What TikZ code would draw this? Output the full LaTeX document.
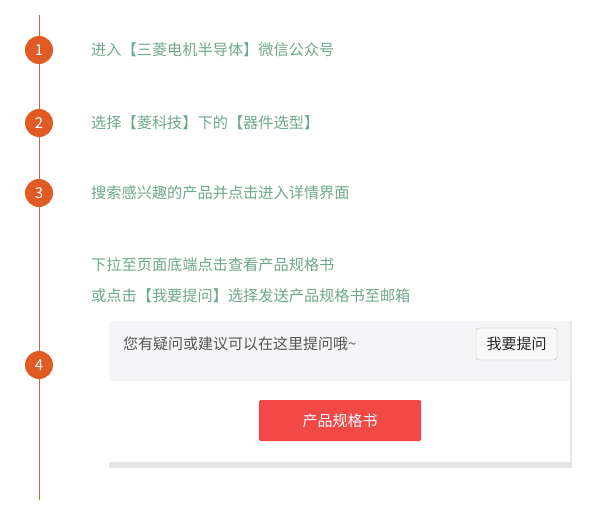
\documentclass[tikz,border=0pt]{standalone}
\usepackage{fontspec}
\setmainfont{Noto Sans CJK SC}
\definecolor{lineor}{HTML}{D2643A}
\definecolor{circor}{HTML}{E05A24}
\definecolor{steptxt}{HTML}{6FA88C}
\definecolor{panelgrey}{HTML}{F5F5F7}
\definecolor{panelbot}{HTML}{E6E6E6}
\definecolor{darktxt}{HTML}{555555}
\definecolor{redbtn}{HTML}{F24848}
\tikzset{
  num/.style={circle,fill=circor,minimum size=28pt,inner sep=0pt,text=white,font=\fontsize{15}{15}\selectfont},
  steplabel/.style={anchor=west,inner sep=0pt,text=steptxt,font=\fontsize{15.2}{15.2}\selectfont},
}
\begin{document}
\begin{tikzpicture}[x=1pt,y=-1pt]
\useasboundingbox[fill=white] (0,0) rectangle (599,516);
% timeline
\coordinate (top) at (39,15);
\coordinate (bot) at (39,500);
\draw[lineor,line width=1pt] (top) -- (bot);
\node[num] (n1) at (39,50) {1};
\node[num] (n2) at (39,123) {2};
\node[num] (n3) at (39,193) {3};
\node[num] (n4) at (39,365) {4};
\node[steplabel] (t1) at (91,50) {进入【三菱电机半导体】微信公众号};
\node[steplabel] (t2) at (91,123) {选择【菱科技】下的【器件选型】};
\node[steplabel] (t3) at (91,193) {搜索感兴趣的产品并点击进入详情界面};
\node[steplabel] (t4a) at (91,265) {下拉至页面底端点击查看产品规格书};
\node[steplabel] (t4b) at (91,296) {或点击【我要提问】选择发送产品规格书至邮箱};
% screenshot panel
\fill[white] (109,321) rectangle (571,468);
\fill[panelgrey] (109,321) rectangle (571,381);
\fill[panelbot] (109,462) rectangle (571,468);
\draw[panelbot,line width=1.5pt] (571,321) -- (571,468);
\node[anchor=west,inner sep=0pt,text=darktxt,font=\fontsize{15}{15}\selectfont] (q) at (123,344) {您有疑问或建议可以在这里提问哦\char`\~};
\node[draw=black!25,fill=panelgrey!60,rounded corners=3pt,minimum width=81pt,minimum height=32pt,inner sep=0pt,font=\fontsize{15}{15}\selectfont,text=black!85] (ask) at (516.5,344) {我要提问};
\node[fill=redbtn,rounded corners=1.5pt,minimum width=162pt,minimum height=41pt,inner sep=0pt,text=white,font=\fontsize{15}{15}\selectfont] (spec) at (340,420.5) {产品规格书};
\end{tikzpicture}
\end{document}
